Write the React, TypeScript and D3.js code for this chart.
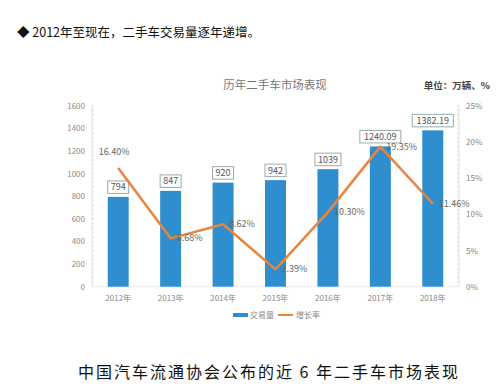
import React, { useEffect, useRef } from 'react';
import * as d3 from 'd3';

const years = ['2012年', '2013年', '2014年', '2015年', '2016年', '2017年', '2018年'];
const volume = [794, 847, 920, 942, 1039, 1240.09, 1382.19];
const volumeLabels = ['794', '847', '920', '942', '1039', '1240.09', '1382.19'];
const growth = [16.4, 6.68, 8.62, 2.39, 10.3, 19.35, 11.46];
const growthLabels = ['16.40%', '6.68%', '8.62%', '2.39%', '10.30%', '19.35%', '11.46%'];
const leftTicks = [0, 200, 400, 600, 800, 1000, 1200, 1400, 1600];
const rightTicks = [0, 5, 10, 15, 20, 25];

const FONT = '"Noto Sans CJK SC", "Noto Sans", sans-serif';

function App() {
  const ref = useRef<SVGSVGElement>(null);

  useEffect(() => {
    const svg = d3.select(ref.current);
    svg.selectAll('*').remove();

    const width = 497;
    const height = 387;
    const left = 92;
    const right = 459;
    const top = 105.7;
    const bottom = 286.7;

    svg.attr('width', width).attr('height', height);
    svg.append('rect').attr('width', width).attr('height', height).attr('fill', '#fff');

    // header line
    svg
      .append('text')
      .attr('x', 17)
      .attr('y', 37)
      .attr('font-family', FONT)
      .attr('font-size', 12.5)
      .attr('fill', '#111')
      .text('◆ 2012年至现在，二手车交易量逐年递增。');

    svg
      .append('text')
      .attr('x', 275)
      .attr('y', 89)
      .attr('text-anchor', 'middle')
      .attr('font-family', FONT)
      .attr('font-size', 11.5)
      .attr('fill', '#777')
      .text('历年二手车市场表现');

    svg
      .append('text')
      .attr('x', 490)
      .attr('y', 89)
      .attr('text-anchor', 'end')
      .attr('font-family', FONT)
      .attr('font-size', 9.5)
      .attr('font-weight', 'bold')
      .attr('fill', '#444')
      .text('单位：万辆、%');

    const x = d3.scaleBand().domain(years).range([left, right]).paddingInner(0.6).paddingOuter(0.3);
    const cx = (d: string) => (x(d) as number) + x.bandwidth() / 2;
    const y = d3.scaleLinear().domain([0, 1600]).range([bottom, top]);
    const y2 = d3.scaleLinear().domain([0, 25]).range([bottom, top]);

    // axis lines with minor ticks
    const axisColor = '#ddd';
    [left, right].forEach((ax) => {
      svg.append('line').attr('x1', ax).attr('x2', ax).attr('y1', top).attr('y2', bottom).attr('stroke', axisColor);
      d3.range(0, 1601, 40).forEach((v) => {
        svg
          .append('line')
          .attr('x1', ax)
          .attr('x2', ax === left ? ax + 2 : ax - 2)
          .attr('y1', y(v))
          .attr('y2', y(v))
          .attr('stroke', axisColor);
      });
    });
    svg
      .append('line')
      .attr('x1', left)
      .attr('x2', right)
      .attr('y1', bottom)
      .attr('y2', bottom)
      .attr('stroke', '#eee');

    svg
      .append('g')
      .selectAll('text')
      .data(leftTicks)
      .join('text')
      .attr('x', 85)
      .attr('y', (d) => y(d) + 3)
      .attr('text-anchor', 'end')
      .attr('font-family', FONT)
      .attr('font-size', 8)
      .attr('fill', '#888')
      .text((d) => d);

    svg
      .append('g')
      .selectAll('text')
      .data(rightTicks)
      .join('text')
      .attr('x', 466)
      .attr('y', (d) => y2(d) + 3)
      .attr('font-family', FONT)
      .attr('font-size', 8)
      .attr('fill', '#888')
      .text((d) => d + '%');

    svg
      .append('g')
      .selectAll('text')
      .data(years)
      .join('text')
      .attr('x', (d) => cx(d))
      .attr('y', 301)
      .attr('text-anchor', 'middle')
      .attr('font-family', FONT)
      .attr('font-size', 8)
      .attr('fill', '#888')
      .text((d) => d);

    // bars
    svg
      .append('g')
      .selectAll('rect')
      .data(volume)
      .join('rect')
      .attr('x', (d, i) => x(years[i]) as number)
      .attr('y', (d) => y(d))
      .attr('width', x.bandwidth())
      .attr('height', (d) => y(0) - y(d))
      .attr('fill', '#2E8ECE');

    // value boxes
    const boxes = svg.append('g');
    volume.forEach((v, i) => {
      const label = volumeLabels[i];
      const w = label.length * 5 + 6;
      const bx = cx(years[i]) - w / 2;
      const by = y(v) - 16;
      boxes
        .append('rect')
        .attr('x', bx)
        .attr('y', by)
        .attr('width', w)
        .attr('height', 12.5)
        .attr('fill', '#fff')
        .attr('stroke', '#9aa')
        .attr('stroke-width', 1);
      boxes
        .append('text')
        .attr('x', cx(years[i]))
        .attr('y', by + 9.5)
        .attr('text-anchor', 'middle')
        .attr('font-family', FONT)
        .attr('font-size', 9)
        .attr('fill', '#555')
        .text(label);
    });

    // growth line
    const line = d3
      .line<number>()
      .x((d, i) => cx(years[i]))
      .y((d) => y2(d));
    svg
      .append('path')
      .datum(growth)
      .attr('d', line)
      .attr('fill', 'none')
      .attr('stroke', '#E8843C')
      .attr('stroke-width', 2.5)
      .attr('stroke-linejoin', 'round');

    svg
      .append('g')
      .selectAll('text')
      .data(growth)
      .join('text')
      .attr('x', (d, i) => (i === 0 ? cx(years[i]) - 4 : cx(years[i]) + 6))
      .attr('y', (d, i) => (i === 0 ? y2(d) - 13 : y2(d) + 3))
      .attr('text-anchor', (d, i) => (i === 0 ? 'middle' : 'start'))
      .attr('font-family', FONT)
      .attr('font-size', 9)
      .attr('fill', '#666')
      .text((d, i) => growthLabels[i]);

    // legend
    const lg = svg.append('g').attr('font-family', FONT).attr('font-size', 8).attr('fill', '#888');
    lg.append('rect').attr('x', 233).attr('y', 313).attr('width', 15).attr('height', 4).attr('fill', '#2E8ECE');
    lg.append('text').attr('x', 250).attr('y', 318).text('交易量');
    lg.append('line').attr('x1', 278).attr('x2', 293).attr('y1', 315).attr('y2', 315).attr('stroke', '#E8843C').attr('stroke-width', 2);
    lg.append('text').attr('x', 296).attr('y', 318).text('增长率');

    // caption
    svg
      .append('text')
      .attr('x', 78)
      .attr('y', 378)
      .attr('font-family', '"Noto Sans CJK SC", serif')
      .attr('font-size', 16)
      .attr('letter-spacing', 2)
      .attr('fill', '#111')
      .text('中国汽车流通协会公布的近 6 年二手车市场表现');
  }, []);

  return <svg ref={ref} style={{ position: 'absolute', left: 0, top: 0 }}></svg>;
}

export default App;
